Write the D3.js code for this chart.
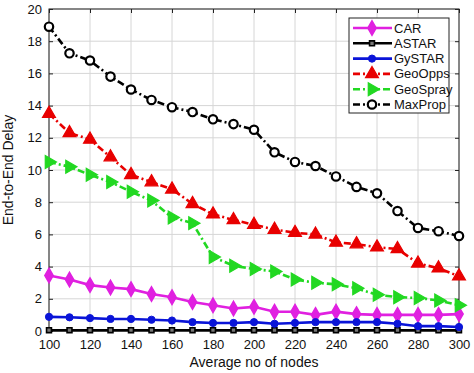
<!DOCTYPE html>
<html>
<head>
<meta charset="utf-8">
<script src="https://cdn.jsdelivr.net/npm/d3@7"></script>
<style>
  body { margin: 0; background: #fff; }
  svg text { font-family: "Liberation Sans", Arial, sans-serif; fill: #111; }
</style>
</head>
<body>
<div id="chart"></div>
<script>
// nodes on the x axis
var nodes = [100, 110, 120, 130, 140, 150, 160, 170, 180, 190, 200, 210, 220, 230, 240, 250, 260, 270, 280, 290, 300]

// end-to-end delay per protocol
var carDelay      = [3.45, 3.2, 2.85, 2.7, 2.6, 2.3, 2.1, 1.8, 1.6, 1.4, 1.5, 1.2, 1.2, 1.0, 1.2, 1.05, 1.0, 1.0, 1.0, 1.0, 1.05]
var astarDelay    = [0.05, 0.05, 0.05, 0.05, 0.05, 0.05, 0.05, 0.05, 0.05, 0.05, 0.05, 0.05, 0.05, 0.05, 0.05, 0.05, 0.05, 0.05, 0.05, 0.05, 0.05]
var gystarDelay   = [0.88, 0.85, 0.8, 0.75, 0.75, 0.7, 0.65, 0.55, 0.5, 0.5, 0.55, 0.45, 0.5, 0.55, 0.55, 0.55, 0.55, 0.45, 0.3, 0.3, 0.25]
var geoOppsDelay  = [13.5, 12.3, 11.9, 10.8, 9.7, 9.25, 8.8, 7.9, 7.25, 6.9, 6.6, 6.3, 6.1, 6.0, 5.5, 5.4, 5.2, 5.1, 4.2, 3.9, 3.4]
var geoSprayDelay = [10.5, 10.2, 9.7, 9.25, 8.65, 8.1, 7.05, 6.7, 4.6, 4.05, 3.85, 3.7, 3.2, 3.0, 2.9, 2.65, 2.25, 2.1, 2.05, 1.9, 1.6]
var maxPropDelay  = [18.9, 17.25, 16.8, 15.8, 15.0, 14.35, 13.9, 13.6, 13.15, 12.85, 12.5, 11.1, 10.5, 10.25, 9.6, 8.95, 8.55, 7.45, 6.4, 6.2, 5.9]

var xTicks = [100, 120, 140, 160, 180, 200, 220, 240, 260, 280, 300]
var yTicks = [0, 2, 4, 6, 8, 10, 12, 14, 16, 18, 20]

var dashDot = "7,3,2,3"
var series = [
	{name: "CAR",      values: carDelay,      color: "#e020e0", dash: null,    marker: "diamond"},
	{name: "ASTAR",    values: astarDelay,    color: "#000000", dash: null,    marker: "square"},
	{name: "GySTAR",   values: gystarDelay,   color: "#0a14d8", dash: null,    marker: "dot"},
	{name: "GeoOpps",  values: geoOppsDelay,  color: "#e80000", dash: dashDot, marker: "triangle"},
	{name: "GeoSpray", values: geoSprayDelay, color: "#22d822", dash: dashDot, marker: "rtriangle"},
	{name: "MaxProp",  values: maxPropDelay,  color: "#000000", dash: dashDot, marker: "circle"}
]

var width = 474, height = 373
var margin = {top: 9, right: 15, bottom: 42, left: 49}
var w = width - margin.left - margin.right
var h = height - margin.top - margin.bottom

var svg = d3.select("#chart").append("svg")
	.attr("width", width)
	.attr("height", height)

var g = svg.append("g")
	.attr("transform", "translate(" + margin.left + "," + margin.top + ")")

var xScale = d3.scaleLinear().domain([100, 300]).range([0, w])
var yScale = d3.scaleLinear().domain([0, 20]).range([h, 0])

// grid
g.append("g").selectAll("line")
	.data(xTicks)
	.enter().append("line")
	.attr("x1", d => xScale(d)).attr("x2", d => xScale(d))
	.attr("y1", 0).attr("y2", h)
	.attr("stroke", "#d6d6d6").attr("stroke-width", 1)
g.append("g").selectAll("line")
	.data(yTicks)
	.enter().append("line")
	.attr("x1", 0).attr("x2", w)
	.attr("y1", d => yScale(d)).attr("y2", d => yScale(d))
	.attr("stroke", "#d6d6d6").attr("stroke-width", 1)

// axes, ticks pointing inwards like matlab
function styleAxis(sel){
	sel.select(".domain").remove()
	sel.selectAll(".tick line").attr("stroke", "#222")
	sel.selectAll(".tick text").style("font-size", "13px").attr("fill", "#111")
}
g.append("g")
	.attr("transform", "translate(0," + h + ")")
	.call(d3.axisBottom(xScale).tickValues(xTicks).tickSize(-4).tickPadding(9))
	.call(styleAxis)
g.append("g")
	.call(d3.axisLeft(yScale).tickValues(yTicks).tickSize(-4).tickPadding(7))
	.call(styleAxis)
g.append("g")
	.call(d3.axisTop(xScale).tickValues(xTicks).tickSize(-4).tickFormat(""))
	.call(styleAxis)
g.append("g")
	.attr("transform", "translate(" + w + ",0)")
	.call(d3.axisRight(yScale).tickValues(yTicks).tickSize(-4).tickFormat(""))
	.call(styleAxis)

g.append("rect")
	.attr("width", w).attr("height", h)
	.attr("fill", "none").attr("stroke", "#222").attr("stroke-width", 1)

// marker drawing
function drawMarker(sel, type, color){
	if(type == "diamond"){
		sel.append("path").attr("d", d3.symbol(d3.symbolDiamond, 60)())
			.attr("fill", color).attr("stroke", color).attr("stroke-width", 1.5)
	}else if(type == "square"){
		sel.append("path").attr("d", d3.symbol(d3.symbolSquare, 24)())
			.attr("fill", "#777").attr("stroke", "#000").attr("stroke-width", 1.6)
	}else if(type == "dot"){
		sel.append("circle").attr("r", 3.6)
			.attr("fill", color).attr("stroke", color).attr("stroke-width", 1)
	}else if(type == "triangle"){
		sel.append("path").attr("d", d3.symbol(d3.symbolTriangle, 72)())
			.attr("fill", color).attr("stroke", color).attr("stroke-width", 1.2)
	}else if(type == "rtriangle"){
		sel.append("path").attr("d", d3.symbol(d3.symbolTriangle, 72)())
			.attr("transform", "rotate(90)")
			.attr("fill", color).attr("stroke", color).attr("stroke-width", 1.2)
	}else if(type == "circle"){
		sel.append("circle").attr("r", 4.2)
			.attr("fill", "#fff").attr("stroke", color).attr("stroke-width", 2.2)
	}
}

var line = d3.line()
	.x(function(d, i){ return xScale(nodes[i]) })
	.y(function(d){ return yScale(d) })

series.forEach(function(s){
	var sg = g.append("g")
	sg.append("path")
		.datum(s.values)
		.attr("d", line)
		.attr("fill", "none")
		.attr("stroke", s.color)
		.attr("stroke-width", 2.6)
		.attr("stroke-dasharray", s.dash)
	s.values.forEach(function(v, i){
		var m = sg.append("g").attr("transform", "translate(" + xScale(nodes[i]) + "," + yScale(v) + ")")
		drawMarker(m, s.marker, s.color)
	})
})

// axis labels
svg.append("text")
	.attr("x", margin.left + w / 2)
	.attr("y", 367)
	.attr("text-anchor", "middle")
	.style("font-size", "14px")
	.text("Average no of nodes")
svg.append("text")
	.attr("transform", "translate(13," + (margin.top + h / 2) + ") rotate(-90)")
	.attr("text-anchor", "middle")
	.style("font-size", "14px")
	.text("End-to-End Delay")

// legend
var legend = svg.append("g").attr("transform", "translate(349,18)")
legend.append("rect")
	.attr("width", 100).attr("height", 95)
	.attr("fill", "#fff").attr("stroke", "#222").attr("stroke-width", 1)
series.forEach(function(s, i){
	var row = legend.append("g").attr("transform", "translate(0," + (10 + i * 15.3) + ")")
	row.append("line")
		.attr("x1", 4).attr("x2", 43)
		.attr("stroke", s.color).attr("stroke-width", 2.6)
		.attr("stroke-dasharray", s.dash)
	var m = row.append("g").attr("transform", "translate(23,0)")
	drawMarker(m, s.marker, s.color)
	row.append("text")
		.attr("x", 45).attr("y", 4.5)
		.style("font-size", "13px")
		.text(s.name)
})
</script>
</body>
</html>
